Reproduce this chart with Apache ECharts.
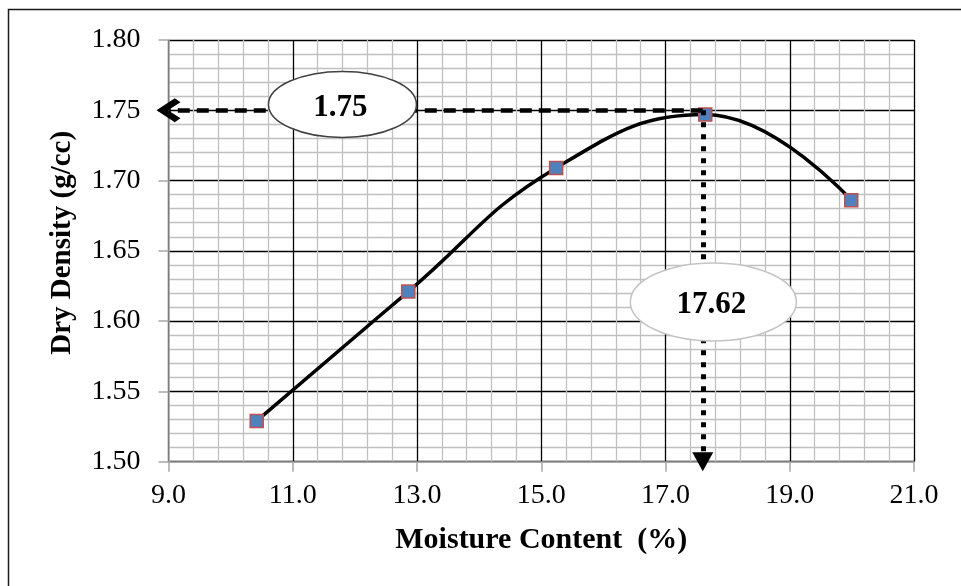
<!DOCTYPE html>
<html>
<head>
<meta charset="utf-8">
<script src="https://cdn.jsdelivr.net/npm/echarts@6/dist/echarts.min.js"></script>
<style>
  html, body { margin: 0; padding: 0; background: #fff; }
  #chart { width: 961px; height: 586px; }
</style>
</head>
<body>
<div id="chart"></div>
<script>
// ---- data ----
const moisture = [10.42, 12.86, 15.24, 17.64, 19.99];
const density  = [1.529, 1.621, 1.709, 1.747, 1.686];
const optMoistureLine = 17.6;   // where the dotted guide is drawn
const maxDensity = 1.75;
const calloutLabels = ['1.75', '17.62'];
const calloutX = [11.80, 17.77];
const calloutY = [1.7542, 1.6137];
const xMin = 9, xMax = 21, xStep = 2;
const yMin = 1.50, yMax = 1.80, yStep = 0.05;
const xName = 'Moisture Content  (%)';
const yName = 'Dry Density (g/cc)';

const FONT = '"Liberation Serif", "Times New Roman", serif';
const chevron = 'path://M12,0 L24,16 L20,21 L12,10 L4,21 L0,16 Z';

const chart = echarts.init(document.getElementById('chart'), null, { renderer: 'canvas' });
const points = moisture.map((x, i) => [x, density[i]]);
const callouts = calloutX.map((x, i) => [x, calloutY[i], i]);
const ellipseStyle = [
  { rx: 74, ry: 33, stroke: '#404040', dy: 4 },
  { rx: 83, ry: 39, stroke: '#c4c4c4', dy: 3 }
];

chart.setOption({
  animation: false,
  backgroundColor: '#fff',
  graphic: [{
    type: 'rect', silent: true,
    shape: { x: 8.5, y: 9.5, width: 2000, height: 2000 },
    style: { fill: 'none', stroke: '#1a1a1a', lineWidth: 1.5 }
  }],
  grid: { left: 168.5, right: 47, top: 40, bottom: 124.3, containLabel: false },
  xAxis: {
    type: 'value', min: xMin, max: xMax, interval: xStep,
    name: xName, nameLocation: 'middle', nameGap: 64,
    nameTextStyle: { fontFamily: FONT, fontWeight: 'bold', fontSize: 30, color: '#000' },
    axisLine: { show: true, onZero: false, lineStyle: { color: '#a6a6a6', width: 1.5 } },
    axisTick: { show: true, length: 10, lineStyle: { color: '#a6a6a6', width: 1.5 } },
    axisLabel: { fontFamily: FONT, fontSize: 28, color: '#000', margin: 20,
                 formatter: v => v.toFixed(1) },
    splitLine: { show: true, lineStyle: { color: '#000', width: 1.3 } },
    minorTick: { show: false, splitNumber: 5 },
    minorSplitLine: { show: true, lineStyle: { color: '#c0c0c0', width: 1.3 } }
  },
  yAxis: {
    type: 'value', min: yMin, max: yMax, interval: yStep,
    name: yName, nameLocation: 'middle', nameGap: 91,
    nameTextStyle: { fontFamily: FONT, fontWeight: 'bold', fontSize: 29, color: '#000',
                     padding: [0, 0, 0, 16] },
    axisLine: { show: true, onZero: false, lineStyle: { color: '#a6a6a6', width: 1.5 } },
    axisTick: { show: true, length: 10, lineStyle: { color: '#a6a6a6', width: 1.5 } },
    axisLabel: { fontFamily: FONT, fontSize: 28, color: '#000', margin: 28,
                 formatter: v => v.toFixed(2) },
    splitLine: { show: true, lineStyle: { color: '#000', width: 1.3 } },
    minorTick: { show: false, splitNumber: 5 },
    minorSplitLine: { show: true, lineStyle: { color: '#c0c0c0', width: 1.3 } }
  },
  series: [
    {
      type: 'line',
      data: points,
      smooth: 0.45,
      z: 3,
      lineStyle: { color: '#000', width: 3.5 },
      symbol: 'rect',
      symbolSize: 13,
      itemStyle: { color: '#4F81BD', borderColor: '#C0504D', borderWidth: 1.5 },
      markLine: {
        silent: true,
        animation: false,
        z: 5,
        label: { show: false },
        data: [
          [
            { coord: [optMoistureLine, maxDensity], symbol: 'none',
              lineStyle: { color: '#000', width: 4.5, type: [12, 7] } },
            { coord: [xMin, maxDensity], symbol: chevron, symbolSize: [24, 24] }
          ],
          [
            { coord: [optMoistureLine, maxDensity], symbol: 'none',
              lineStyle: { color: '#000', width: 5, type: [5, 7] } },
            { coord: [optMoistureLine, yMin], symbol: 'triangle', symbolSize: [21, 19] }
          ]
        ]
      }
    },
    {
      type: 'custom',
      z: 10,
      silent: true,
      data: callouts,
      renderItem: function (params, api) {
        const c = api.coord([api.value(0), api.value(1)]);
        const i = api.value(2);
        const s = ellipseStyle[i];
        return {
          type: 'group',
          children: [
            { type: 'ellipse', shape: { cx: c[0], cy: c[1], rx: s.rx, ry: s.ry },
              style: { fill: '#fff', stroke: s.stroke, lineWidth: 1.5 } },
            { type: 'text', x: c[0] - 2, y: c[1] + s.dy,
              style: { text: calloutLabels[i], font: 'bold 31px ' + FONT, fill: '#000',
                       align: 'center', verticalAlign: 'middle' } }
          ]
        };
      }
    }
  ]
});
</script>
</body>
</html>
